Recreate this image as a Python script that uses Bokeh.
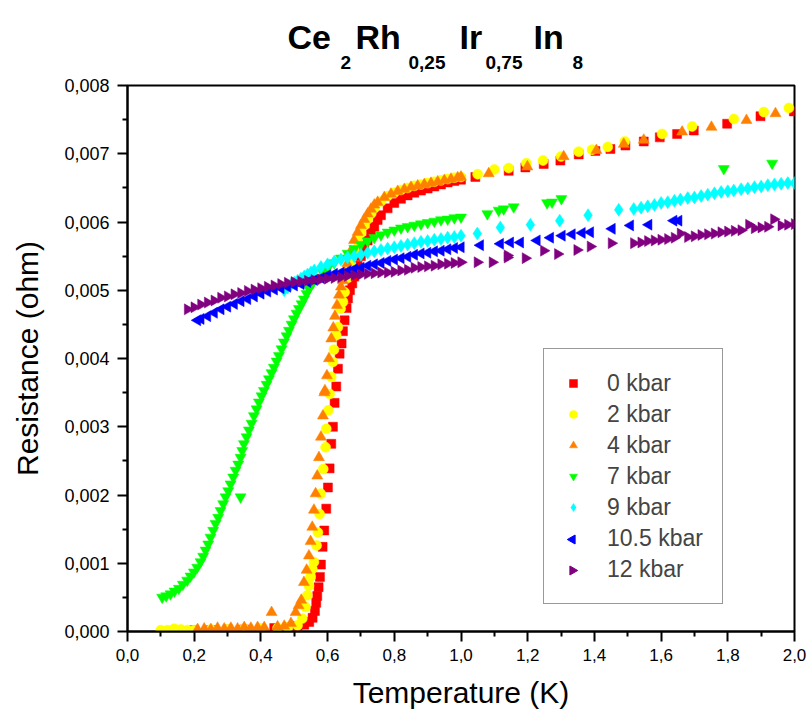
import numpy as np
from bokeh.plotting import figure
from bokeh.layouts import column
from bokeh.models import (Range1d, FixedTicker, CustomJSTickFormatter, Label,
                          Legend, LegendItem)
from bokeh.embed import file_html
from bokeh.resources import INLINE

# ---------------- data (resistance in milliohm, temperature in K) ----------------
t0 = [0.20, 0.25, 0.30, 0.35, 0.40, 0.44, 0.48, 0.51, 0.53, 0.545,
      0.555, 0.562, 0.566, 0.569, 0.573, 0.577, 0.580, 0.585, 0.590, 0.596,
      0.601, 0.606, 0.611, 0.616, 0.621, 0.626, 0.631, 0.636, 0.642, 0.646,
      0.651, 0.657, 0.661, 0.667, 0.674, 0.68, 0.69, 0.70, 0.71, 0.72,
      0.73, 0.74, 0.75, 0.76, 0.78, 0.80, 0.82, 0.84, 0.86, 0.88,
      0.90, 0.92, 0.94, 0.96, 0.98, 1.00, 1.043, 1.143, 1.193, 1.248,
      1.298, 1.353, 1.403, 1.448, 1.493, 1.548, 1.596, 1.648, 1.698, 1.798,
      1.898, 1.998]
r0 = [0.02, 0.02, 0.03, 0.03, 0.04, 0.05, 0.06, 0.08, 0.10, 0.14,
      0.20, 0.30, 0.42, 0.52, 0.65, 0.80, 0.98, 1.24, 1.48, 1.80,
      2.11, 2.39, 2.75, 3.00, 3.35, 3.59, 3.85, 4.07, 4.22, 4.40,
      4.56, 4.74, 4.88, 5.00, 5.10, 5.20, 5.36, 5.50, 5.62, 5.73,
      5.84, 5.93, 6.03, 6.10, 6.20, 6.28, 6.34, 6.39, 6.43, 6.46,
      6.49, 6.52, 6.55, 6.58, 6.60, 6.62, 6.66, 6.75, 6.80, 6.85,
      6.90, 6.99, 7.04, 7.07, 7.12, 7.18, 7.24, 7.29, 7.34, 7.44,
      7.55, 7.62]

t2 = [0.10, 0.12, 0.14, 0.16, 0.18, 0.20, 0.25, 0.30, 0.35, 0.40,
      0.45, 0.48, 0.51, 0.524, 0.534, 0.539, 0.544, 0.549, 0.554, 0.559,
      0.567, 0.571, 0.576, 0.579, 0.587, 0.594, 0.596, 0.602, 0.606, 0.611,
      0.616, 0.619, 0.626, 0.631, 0.639, 0.646, 0.651, 0.66, 0.67, 0.68,
      0.69, 0.70, 0.71, 0.72, 0.73, 0.74, 0.76, 0.78, 0.80, 0.82,
      0.84, 0.86, 0.88, 0.90, 0.92, 0.94, 0.96, 0.98, 1.00, 1.05,
      1.10, 1.143, 1.196, 1.246, 1.30, 1.353, 1.393, 1.44, 1.491, 1.603,
      1.693, 1.818, 1.908, 1.983]
r2 = [0.02, 0.02, 0.04, 0.03, 0.02, 0.02, 0.03, 0.03, 0.04, 0.04,
      0.05, 0.06, 0.09, 0.19, 0.36, 0.53, 0.67, 0.80, 0.92, 1.02,
      1.26, 1.45, 1.72, 2.02, 2.38, 2.70, 2.97, 3.24, 3.48, 3.73,
      3.95, 4.13, 4.34, 4.46, 4.73, 4.83, 4.97, 5.18, 5.38, 5.57,
      5.72, 5.84, 5.95, 6.04, 6.12, 6.20, 6.30, 6.38, 6.43, 6.47,
      6.50, 6.53, 6.55, 6.57, 6.59, 6.61, 6.63, 6.65, 6.66, 6.70,
      6.77, 6.79, 6.86, 6.90, 6.96, 7.03, 7.06, 7.10, 7.18, 7.29,
      7.40, 7.51, 7.61, 7.67]

t4 = [0.21, 0.23, 0.25, 0.27, 0.29, 0.31, 0.33, 0.35, 0.37, 0.39,
      0.41, 0.432, 0.45, 0.47, 0.49, 0.504, 0.513, 0.521, 0.529, 0.537,
      0.544, 0.549, 0.554, 0.559, 0.564, 0.569, 0.574, 0.580, 0.586, 0.590,
      0.592, 0.598, 0.604, 0.611, 0.617, 0.622, 0.628, 0.634, 0.640, 0.646,
      0.652, 0.659, 0.669, 0.679, 0.69, 0.70, 0.71, 0.72, 0.73, 0.74,
      0.75, 0.77, 0.79, 0.81, 0.83, 0.85, 0.87, 0.89, 0.91, 0.93,
      0.95, 0.97, 0.99, 1.00, 1.083, 1.199, 1.308, 1.406, 1.488, 1.548,
      1.663, 1.751, 1.856, 1.943]
r4 = [0.03, 0.04, 0.03, 0.05, 0.04, 0.05, 0.04, 0.06, 0.05, 0.06,
      0.06, 0.28, 0.07, 0.08, 0.12, 0.28, 0.38, 0.46, 0.72, 0.90,
      1.11, 1.32, 1.53, 1.78, 2.02, 2.28, 2.55, 2.85, 3.16, 3.50,
      3.53, 3.75, 4.00, 4.29, 4.45, 4.62, 4.78, 4.93, 5.05, 5.14,
      5.25, 5.39, 5.57, 5.73, 5.85, 5.95, 6.04, 6.12, 6.19, 6.25,
      6.29, 6.36, 6.41, 6.45, 6.48, 6.51, 6.53, 6.55, 6.57, 6.59,
      6.61, 6.63, 6.65, 6.66, 6.71, 6.81, 6.96, 7.05, 7.14, 7.20,
      7.32, 7.39, 7.49, 7.59]

t7 = [0.104, 0.116, 0.129, 0.141, 0.154, 0.166, 0.179, 0.189, 0.199, 0.209,
      0.219, 0.227, 0.234, 0.242, 0.249, 0.257, 0.264, 0.272, 0.279, 0.287,
      0.294, 0.302, 0.309, 0.317, 0.324, 0.332, 0.339, 0.339, 0.344, 0.349,
      0.357, 0.364, 0.372, 0.379, 0.387, 0.394, 0.402, 0.409, 0.417, 0.424,
      0.432, 0.439, 0.447, 0.454, 0.462, 0.469, 0.477, 0.484, 0.492, 0.499,
      0.507, 0.514, 0.522, 0.529, 0.537, 0.544, 0.555, 0.57, 0.585, 0.60,
      0.62, 0.64, 0.66, 0.68, 0.70, 0.72, 0.74, 0.76, 0.78, 0.80,
      0.82, 0.84, 0.86, 0.88, 0.90, 0.92, 0.94, 0.96, 0.98, 1.00,
      1.079, 1.113, 1.128, 1.158, 1.258, 1.273, 1.301, 1.788, 1.933]
r7 = [0.50, 0.52, 0.55, 0.59, 0.63, 0.69, 0.75, 0.81, 0.87, 0.94,
      1.02, 1.10, 1.19, 1.28, 1.38, 1.48, 1.58, 1.67, 1.77, 1.87,
      1.97, 2.06, 2.16, 2.26, 2.36, 2.45, 2.55, 1.97, 2.65, 2.75,
      2.85, 2.95, 3.05, 3.16, 3.26, 3.36, 3.45, 3.53, 3.62, 3.70,
      3.79, 3.87, 3.96, 4.04, 4.14, 4.24, 4.33, 4.41, 4.50, 4.58,
      4.66, 4.73, 4.80, 4.87, 4.95, 5.02, 5.10, 5.18, 5.26, 5.32,
      5.40, 5.47, 5.54, 5.61, 5.67, 5.72, 5.77, 5.81, 5.85, 5.88,
      5.91, 5.93, 5.95, 5.97, 5.99, 6.01, 6.03, 6.04, 6.06, 6.07,
      6.12, 6.17, 6.19, 6.22, 6.28, 6.29, 6.34, 6.78, 6.86]

t9 = [0.47, 0.48, 0.49, 0.50, 0.51, 0.52, 0.53, 0.54, 0.55, 0.56,
      0.58, 0.60, 0.62, 0.64, 0.66, 0.68, 0.70, 0.72, 0.74, 0.76,
      0.78, 0.80, 0.82, 0.84, 0.86, 0.88, 0.90, 0.92, 0.94, 0.96,
      0.98, 1.00, 1.049, 1.118, 1.208, 1.296, 1.381, 1.473, 1.518, 1.54,
      1.56, 1.58, 1.60, 1.62, 1.64, 1.658, 1.68, 1.70, 1.72, 1.74,
      1.76, 1.78, 1.80, 1.818, 1.84, 1.86, 1.88, 1.90, 1.92, 1.94,
      1.96, 1.98, 2.00]
r9 = [5.00, 5.04, 5.08, 5.11, 5.14, 5.17, 5.20, 5.23, 5.26, 5.29,
      5.34, 5.38, 5.42, 5.45, 5.48, 5.50, 5.52, 5.55, 5.57, 5.59,
      5.61, 5.63, 5.65, 5.67, 5.69, 5.71, 5.72, 5.74, 5.75, 5.77,
      5.78, 5.80, 5.83, 5.92, 5.96, 6.02, 6.10, 6.18, 6.19, 6.21,
      6.23, 6.25, 6.28, 6.29, 6.31, 6.33, 6.35, 6.36, 6.38, 6.40,
      6.42, 6.44, 6.45, 6.46, 6.48, 6.49, 6.51, 6.52, 6.54, 6.55,
      6.56, 6.57, 6.57]

t10 = [0.21, 0.22, 0.24, 0.26, 0.28, 0.30, 0.32, 0.34, 0.36, 0.38,
       0.40, 0.42, 0.44, 0.46, 0.48, 0.50, 0.52, 0.54, 0.56, 0.58,
       0.60, 0.62, 0.64, 0.66, 0.68, 0.70, 0.72, 0.74, 0.76, 0.78,
       0.80, 0.82, 0.84, 0.86, 0.88, 0.90, 0.92, 0.94, 0.96, 0.98,
       1.00, 1.058, 1.118, 1.148, 1.178, 1.228, 1.268, 1.303, 1.333, 1.363,
       1.388, 1.453, 1.508, 1.563, 1.638, 1.653]
r10 = [4.56, 4.58, 4.62, 4.67, 4.72, 4.76, 4.80, 4.84, 4.87, 4.91,
       4.95, 4.98, 5.01, 5.03, 5.05, 5.07, 5.09, 5.12, 5.15, 5.18,
       5.22, 5.24, 5.26, 5.28, 5.31, 5.33, 5.36, 5.38, 5.40, 5.43,
       5.45, 5.47, 5.49, 5.52, 5.54, 5.55, 5.57, 5.58, 5.60, 5.62,
       5.63, 5.66, 5.68, 5.70, 5.70, 5.73, 5.77, 5.80, 5.82, 5.84,
       5.85, 5.90, 5.95, 5.96, 6.02, 6.02]

t12 = [0.18, 0.20, 0.22, 0.24, 0.26, 0.28, 0.30, 0.32, 0.34, 0.36,
       0.38, 0.40, 0.42, 0.44, 0.46, 0.48, 0.50, 0.52, 0.54, 0.56,
       0.58, 0.60, 0.62, 0.64, 0.66, 0.68, 0.70, 0.72, 0.74, 0.76,
       0.78, 0.80, 0.82, 0.84, 0.86, 0.88, 0.90, 0.92, 0.94, 0.96,
       0.98, 1.00, 1.049, 1.094, 1.139, 1.139, 1.193, 1.248, 1.29, 1.348,
       1.388, 1.451, 1.518, 1.54, 1.56, 1.58, 1.60, 1.62, 1.64, 1.658,
       1.68, 1.70, 1.72, 1.74, 1.76, 1.78, 1.80, 1.82, 1.84, 1.863,
       1.88, 1.90, 1.92, 1.938, 1.96, 1.98, 2.00]
r12 = [4.72, 4.75, 4.79, 4.82, 4.85, 4.89, 4.91, 4.94, 4.96, 4.99,
       5.01, 5.03, 5.05, 5.07, 5.09, 5.11, 5.12, 5.13, 5.14, 5.15,
       5.16, 5.17, 5.18, 5.19, 5.21, 5.22, 5.23, 5.24, 5.25, 5.26,
       5.26, 5.27, 5.29, 5.30, 5.33, 5.34, 5.35, 5.36, 5.38, 5.39,
       5.40, 5.41, 5.41, 5.41, 5.51, 5.48, 5.47, 5.58, 5.53, 5.59,
       5.64, 5.69, 5.69, 5.70, 5.72, 5.73, 5.74, 5.75, 5.77, 5.83,
       5.78, 5.79, 5.81, 5.82, 5.83, 5.85, 5.86, 5.87, 5.88, 5.96,
       5.91, 5.92, 5.93, 6.04, 5.95, 5.96, 5.97]

labels = ["0 kbar", "2 kbar", "4 kbar", "7 kbar", "9 kbar", "10.5 kbar", "12 kbar"]
x_ticks = [0.0, 0.2, 0.4, 0.6, 0.8, 1.0, 1.2, 1.4, 1.6, 1.8, 2.0]
x_minor = [0.1, 0.3, 0.5, 0.7, 0.9, 1.1, 1.3, 1.5, 1.7, 1.9]
y_ticks = [0.0, 0.001, 0.002, 0.003, 0.004, 0.005, 0.006, 0.007, 0.008]
y_minor = [0.0005, 0.0015, 0.0025, 0.0035, 0.0045, 0.0055, 0.0065, 0.0075]

# ---------------- styling / layout constants ----------------
FONT = "Liberation Sans"
W, H_TITLE = 810, 75
B_LEFT, B_RIGHT, B_TOP, B_BOTTOM = 127, 16, 10, 86
FRAME_W, FRAME_H = 667, 546
X0, X1, Y0, Y1 = 0.0, 2.0, 0.0, 0.008

# legend geometry (screen px, relative to frame bottom-left)
LEG_X, LEG_Y = 416, 27
LEG_PAD, LEG_ROW, LEG_SP, LEG_GW = 19, 30, 1, 20
N_ITEMS = 7

series = [
    (t0, r0, "square", 9, 0.0, "#FF0000"),
    (t2, r2, "circle", 10, 0.0, "#FFFF00"),
    (t4, r4, "triangle", 11, 0.0, "#FF8000"),
    (t7, r7, "inverted_triangle", 11, 0.0, "#00FF00"),
    (t9, r9, "diamond", 13, 0.0, "#00FFFF"),
    (t10, r10, "triangle", 11, np.pi / 2, "#0000FF"),
    (t12, r12, "triangle", 11, -np.pi / 2, "#800080"),
]

p = figure(frame_width=FRAME_W, frame_height=FRAME_H, title=None,
           output_backend="svg", toolbar_location=None,
           x_range=Range1d(X0, X1), y_range=Range1d(Y0, Y1),
           min_border_left=B_LEFT, min_border_right=B_RIGHT,
           min_border_top=B_TOP, min_border_bottom=B_BOTTOM)
p.xgrid.visible = False
p.ygrid.visible = False
p.outline_line_color = "black"
p.outline_line_width = 2
p.background_fill_color = "white"
p.border_fill_color = "white"

# legend key positions (for rotated keys that Legend cannot rotate)
box_h = 2 * LEG_PAD + N_ITEMS * LEG_ROW + (N_ITEMS - 1) * LEG_SP
key_sx = LEG_X + LEG_PAD + LEG_GW / 2
key_x = X0 + key_sx / FRAME_W * (X1 - X0)

def key_y(i):
    sy = LEG_Y + box_h - LEG_PAD - LEG_ROW / 2 - i * (LEG_ROW + LEG_SP)
    return Y0 + sy / FRAME_H * (Y1 - Y0)

items = []
for i, ((t, r, marker, size, ang, color), lab) in enumerate(zip(series, labels)):
    rr = np.array(r) * 1e-3
    g = p.scatter(t, rr, marker=marker, size=size, angle=ang,
                  fill_color=color, line_color=color, line_width=0.5)
    if ang != 0.0:
        proxy = p.scatter([], [], marker="square", size=1,
                          fill_alpha=0, line_alpha=0)
        items.append(LegendItem(label=lab, renderers=[proxy]))
        p.scatter([key_x], [key_y(i)], marker=marker, size=9, angle=ang,
                  fill_color=color, line_color=color, level="overlay")
    else:
        items.append(LegendItem(label=lab, renderers=[g]))

legend = Legend(items=items, location=(LEG_X, LEG_Y),
                label_text_font=FONT, label_text_font_size="23px",
                padding=LEG_PAD, spacing=LEG_SP, glyph_width=LEG_GW, glyph_height=20,
                label_height=LEG_ROW, label_standoff=24, margin=0,
                border_line_color="#333333", border_line_width=1,
                background_fill_alpha=0.0)
p.add_layout(legend, "center")

for ax in (p.xaxis[0], p.yaxis[0]):
    ax.axis_line_width = 2
    ax.major_tick_line_width = 2
    ax.minor_tick_line_width = 2
    ax.major_tick_out = 10
    ax.major_tick_in = 0
    ax.minor_tick_out = 5
    ax.minor_tick_in = 0
    ax.major_label_text_font = FONT
    ax.axis_label_text_font = FONT
    ax.axis_label_text_font_size = "30px"
    ax.axis_label_text_font_style = "normal"
    ax.axis_label_text_color = "black"
    ax.major_label_text_color = "black"

p.xaxis[0].major_label_text_font_size = "17px"
p.yaxis[0].major_label_text_font_size = "18px"
p.xaxis[0].ticker = FixedTicker(ticks=x_ticks, minor_ticks=x_minor)
p.yaxis[0].ticker = FixedTicker(ticks=y_ticks, minor_ticks=y_minor)
p.xaxis[0].formatter = CustomJSTickFormatter(code="return tick.toFixed(1).replace('.', ',');")
p.yaxis[0].formatter = CustomJSTickFormatter(code="return tick.toFixed(3).replace('.', ',');")
p.xaxis[0].axis_label = "Temperature (K)"
p.yaxis[0].axis_label = "Resistance (ohm)"
p.xaxis[0].major_label_standoff = 7
p.yaxis[0].major_label_standoff = 8
p.xaxis[0].axis_label_standoff = 12
p.yaxis[0].axis_label_standoff = 17

# ---------------- title (chemical formula with subscripts) ----------------
# title strip shares the main frame's horizontal extent; its y range is a 0..H strip
tf = figure(frame_width=FRAME_W, frame_height=H_TITLE, title=None,
            output_backend="svg", toolbar_location=None,
            x_range=Range1d(X0, X1), y_range=Range1d(0, H_TITLE),
            x_axis_type=None, y_axis_type=None,
            min_border_left=B_LEFT, min_border_right=B_RIGHT,
            min_border_top=0, min_border_bottom=0)
tf.xgrid.visible = False
tf.ygrid.visible = False
tf.outline_line_color = None
tf.border_fill_color = "white"

MAIN_Y, SUB_Y = 39, 13   # baseline heights inside the title strip
# (text, left edge in page px, is subscript)
title_parts = [("Ce", 287, False), ("2", 340, True), ("Rh", 355, False),
               ("0,25", 408, True), ("Ir", 459, False), ("0,75", 485, True),
               ("In", 533, False), ("8", 572, True)]
for txt, xpos, sub in title_parts:
    xd = X0 + (xpos - B_LEFT) / FRAME_W * (X1 - X0)
    tf.add_layout(Label(x=xd, y=SUB_Y if sub else MAIN_Y, text=txt,
                        text_font=FONT, text_font_style="bold",
                        text_font_size="19px" if sub else "34px",
                        text_baseline="alphabetic", text_align="left",
                        text_color="black"))

layout = column(tf, p, spacing=0)
open("out.html", "w").write(file_html(layout, INLINE))
